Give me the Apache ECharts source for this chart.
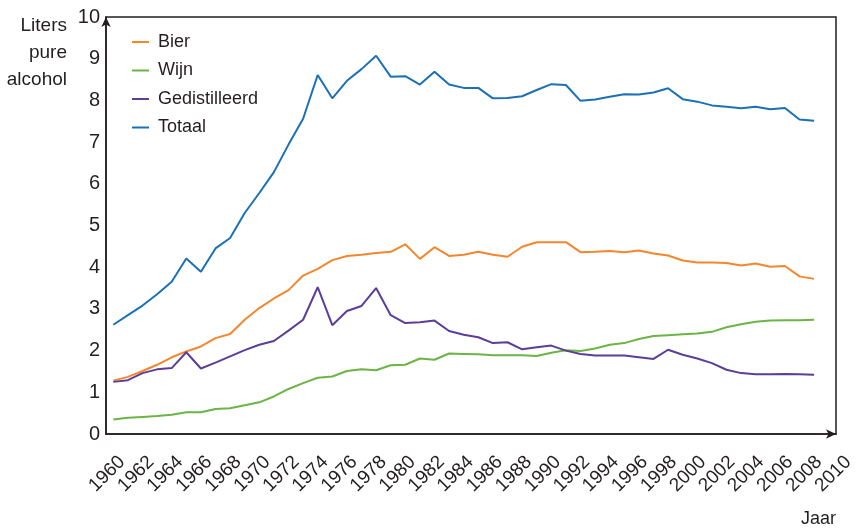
<!DOCTYPE html>
<html><head><meta charset="utf-8">
<script src="https://cdn.jsdelivr.net/npm/echarts@6/dist/echarts.min.js"></script>
<style>html,body{margin:0;padding:0;background:#fff}#c{width:857px;height:528px}</style>
</head><body><div id="c"></div>
<script>
const years = [1960,1961,1962,1963,1964,1965,1966,1967,1968,1969,1970,1971,1972,1973,1974,1975,1976,1977,1978,1979,1980,1981,1982,1983,1984,1985,1986,1987,1988,1989,1990,1991,1992,1993,1994,1995,1996,1997,1998,1999,2000,2001,2002,2003,2004,2005,2006,2007,2008];
const seriesNames = ['Bier','Wijn','Gedistilleerd','Totaal'];
const bier = [1.28,1.37,1.51,1.66,1.84,1.98,2.10,2.30,2.40,2.74,3.02,3.25,3.45,3.80,3.96,4.17,4.27,4.30,4.34,4.37,4.55,4.20,4.48,4.27,4.30,4.37,4.30,4.25,4.49,4.60,4.60,4.60,4.36,4.37,4.39,4.36,4.40,4.33,4.28,4.16,4.11,4.11,4.10,4.04,4.09,4.01,4.03,3.78,3.72];
const wijn = [0.35,0.39,0.41,0.43,0.46,0.52,0.52,0.60,0.62,0.69,0.76,0.90,1.08,1.22,1.35,1.38,1.51,1.55,1.53,1.65,1.66,1.81,1.78,1.93,1.92,1.91,1.89,1.89,1.89,1.87,1.95,2.01,1.99,2.05,2.14,2.18,2.28,2.35,2.37,2.39,2.41,2.45,2.56,2.63,2.69,2.72,2.73,2.73,2.74];
const gedistilleerd = [1.25,1.29,1.46,1.55,1.58,1.96,1.57,1.71,1.86,2.01,2.14,2.23,2.48,2.74,3.52,2.61,2.95,3.07,3.50,2.85,2.66,2.68,2.72,2.47,2.38,2.32,2.18,2.20,2.03,2.08,2.12,2.00,1.92,1.88,1.88,1.88,1.84,1.80,2.02,1.90,1.81,1.70,1.54,1.46,1.43,1.43,1.44,1.43,1.42];
const totaal = [2.62,2.85,3.08,3.35,3.65,4.21,3.89,4.45,4.70,5.30,5.78,6.28,6.94,7.56,8.61,8.05,8.47,8.75,9.07,8.57,8.58,8.38,8.69,8.38,8.30,8.30,8.05,8.06,8.10,8.25,8.39,8.37,7.99,8.02,8.09,8.15,8.14,8.19,8.29,8.03,7.97,7.88,7.85,7.81,7.85,7.79,7.82,7.54,7.51];
const yTicks = [0,1,2,3,4,5,6,7,8,9,10];
const xTickStart = 1960, xTickEnd = 2010, xTickStep = 2;
const yTitle = 'Liters\npure\nalcohol';
const xTitle = 'Jaar';

const FONT = '"Liberation Sans", Arial, sans-serif';
const TXT = '#231f20';
const colors = ['#f5862e','#6cb445','#5b3e9a','#1b70b6'];
const allValues = [bier, wijn, gedistilleerd, totaal];

const chart = echarts.init(document.getElementById('c'));
const pairs = arr => years.map((y, i) => [y, arr[i]]);

chart.setOption({
  animation: false,
  textStyle: {fontFamily: FONT, color: TXT},
  graphic: [
    {type: 'text', x: 67, y: 12, style: {text: yTitle, align: 'right', verticalAlign: 'top',
      lineHeight: 27, fill: TXT, font: '19px ' + FONT}},
    {type: 'text', x: 801, y: 510, style: {text: xTitle, align: 'left', verticalAlign: 'top',
      fill: TXT, font: '18px ' + FONT}}
  ],
  legend: {
    orient: 'vertical', left: 127, top: 27, itemWidth: 17, itemHeight: 2, icon: 'rect',
    itemGap: 8.5, data: seriesNames,
    textStyle: {fontSize: 18, lineHeight: 20, color: TXT, fontFamily: FONT, padding: [0,0,0,4]}
  },
  grid: [
    {left: 106, right: 21, top: 17, bottom: 94, show: true, borderColor: TXT, borderWidth: 1.5},
    {left: 122, right: 7, top: 17, bottom: 94}
  ],
  xAxis: [
    {type: 'value', gridIndex: 0, min: 1959.5, max: 2009.5,
     axisLine: {show: true, onZero: false, lineStyle: {color: TXT, width: 1.5}, symbol: ['none','arrow'], symbolSize: [7,10]},
     axisTick: {show: false}, axisLabel: {show: false}, splitLine: {show: false}},
    {type: 'value', gridIndex: 1, min: xTickStart, max: xTickEnd, interval: xTickStep,
     axisLine: {show: false}, axisTick: {show: false}, splitLine: {show: false},
     axisLabel: {rotate: 45, margin: 25, fontSize: 19, color: TXT, fontFamily: FONT, formatter: v => String(v)}}
  ],
  yAxis: [
    {type: 'value', gridIndex: 0, min: yTicks[0], max: yTicks[yTicks.length-1], interval: 1,
     axisLine: {show: true, lineStyle: {color: TXT, width: 1.5}, symbol: ['none','arrow'], symbolSize: [7,10]},
     axisTick: {show: false}, splitLine: {show: false},
     axisLabel: {fontSize: 20, margin: 6, color: TXT, fontFamily: FONT}},
    {type: 'value', gridIndex: 1, show: false, min: 0, max: 10}
  ],
  series: seriesNames.map((name, k) => ({
    name, type: 'line', xAxisIndex: 0, yAxisIndex: 0, data: pairs(allValues[k]),
    showSymbol: false, symbol: 'none', color: colors[k],
    lineStyle: {width: 2, color: colors[k]}, z: 2 + (k === 3 ? 0 : k)
  }))
});
</script></body></html>
